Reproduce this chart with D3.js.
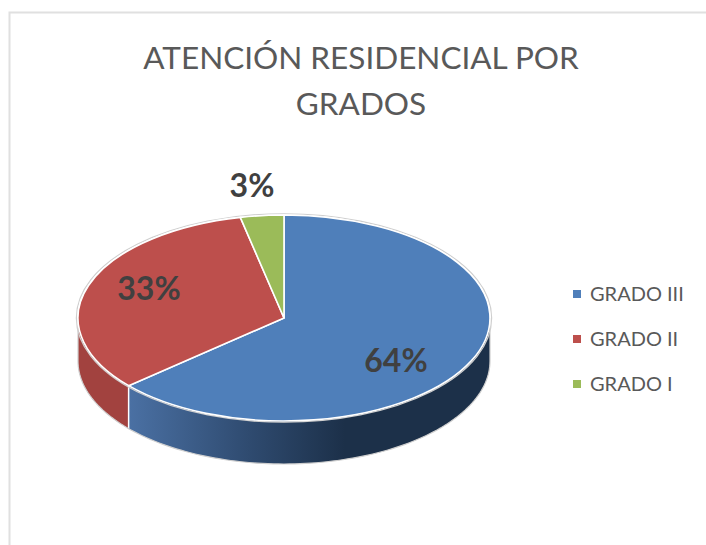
<!DOCTYPE html>
<html lang="es">
<head>
    <meta charset="UTF-8">
    <title>Atención residencial por grados</title>
    <script src="https://cdn.jsdelivr.net/npm/d3@7"></script>
    <style>
        html, body { margin: 0; padding: 0; background: #fff; }
        svg { display: block; font-family: Lato, "Open Sans", sans-serif; }
        .slice-edge { vector-effect: non-scaling-stroke; }
    </style>
</head>
<body>
    <svg id="chart" width="706" height="545"></svg>

    <script>
        // Data
        const categories = ["GRADO III", "GRADO II", "GRADO I"];
        const values = [63.6, 33.0, 3.4];
        const colors = ["#4f7fba", "#bd4f4c", "#9bbb59"];
        const titleLines = ["ATENCIÓN RESIDENCIAL POR", "GRADOS"];

        // Pie layout (ellipse seen in perspective)
        const cx = 284, cy = 318, rx = 206, ry = 103, depth = 43;
        const labelPos = [[396, 361], [149, 289], [252, 186]];

        const svg = d3.select("#chart");

        // Frame of the chart area
        svg.append("path")
            .attr("d", "M9.5,545V12.5H706")
            .attr("fill", "none")
            .attr("stroke", "#e0e0e0")
            .attr("stroke-width", 2);

        // Title
        svg.append("g").selectAll("text")
            .data(titleLines)
            .enter()
            .append("text")
            .attr("x", 361)
            .attr("y", (d, i) => 69 + i * 46)
            .attr("text-anchor", "middle")
            .attr("font-size", 31.5)
            .attr("fill", "#595959")
            .text(d => d);

        const defs = svg.append("defs");
        const blueSide = defs.append("linearGradient")
            .attr("id", "blueSide")
            .attr("gradientUnits", "userSpaceOnUse")
            .attr("x1", 130).attr("x2", 345).attr("y1", 0).attr("y2", 0);
        blueSide.append("stop").attr("offset", 0).attr("stop-color", "#4a70a3");
        blueSide.append("stop").attr("offset", 0.55).attr("stop-color", "#2f4b70");
        blueSide.append("stop").attr("offset", 1).attr("stop-color", "#1c3049");

        const pie = d3.pie().sort(null).value(d => d);
        const arcs = pie(values);

        // Scales from the unit circle to the tilted ellipse
        const xScale = d3.scaleLinear().domain([-1, 1]).range([cx - rx, cx + rx]);
        const yScale = d3.scaleLinear().domain([-1, 1]).range([cy - ry, cy + ry]);

        // Side wall, only the front half of the ellipse shows
        const sideArea = d3.area()
            .x(a => xScale(Math.sin(a)))
            .y0(a => yScale(-Math.cos(a)))
            .y1(a => yScale(-Math.cos(a)) + depth);

        function frontAngles(a) {
            const start = Math.max(a.startAngle, Math.PI / 2);
            const end = Math.min(a.endAngle, Math.PI * 1.5);
            if (end <= start) return [];
            return d3.range(0, 61).map(i => start + (end - start) * i / 60);
        }

        const sideFill = ["url(#blueSide)", "#a2423f", "#7c9647"];
        svg.append("g").selectAll("path")
            .data(arcs)
            .enter()
            .append("path")
            .attr("d", d => sideArea(frontAngles(d)) || "")
            .attr("fill", (d, i) => sideFill[i]);

        // White seam where blue and red walls meet
        const seam = arcs[0].endAngle;
        svg.append("line")
            .attr("x1", xScale(Math.sin(seam)))
            .attr("x2", xScale(Math.sin(seam)))
            .attr("y1", yScale(-Math.cos(seam)))
            .attr("y2", yScale(-Math.cos(seam)) + depth)
            .attr("stroke", "#fff")
            .attr("stroke-width", 1.5);

        // Outer grey outline of the wall
        const wallAngles = d3.range(0, 121).map(i => Math.PI / 2 + Math.PI * i / 120);
        const outlineLine = d3.line()
            .x(a => xScale(Math.sin(a)))
            .y(a => yScale(-Math.cos(a)) + depth);
        svg.append("path")
            .attr("d", `M${xScale(1)},${cy}L${xScale(1)},${cy + depth}` +
                outlineLine(wallAngles).replace(/^M/, "L") +
                `L${xScale(-1)},${cy}`)
            .attr("fill", "none")
            .attr("stroke", "#cfcfcf")
            .attr("stroke-width", 1.2);

        // Top face: unit arcs squashed into the ellipse
        const arc = d3.arc().innerRadius(0).outerRadius(1);
        const topFace = svg.append("g")
            .attr("transform", `translate(${cx},${cy}) scale(${rx},${ry})`);

        topFace.append("ellipse")
            .attr("class", "slice-edge")
            .attr("rx", 1.008).attr("ry", 1.012)
            .attr("fill", "none")
            .attr("stroke", "#cfcfcf")
            .attr("stroke-width", 1.2);

        topFace.selectAll("path")
            .data(arcs)
            .enter()
            .append("path")
            .attr("class", "slice-edge")
            .attr("d", arc)
            .attr("fill", (d, i) => colors[i])
            .attr("stroke", "#fff")
            .attr("stroke-width", 1.6)
            .attr("stroke-linejoin", "round");

        // Percent labels
        const total = d3.sum(values);
        svg.append("g").selectAll("text")
            .data(values)
            .enter()
            .append("text")
            .attr("x", (d, i) => labelPos[i][0])
            .attr("y", (d, i) => labelPos[i][1] + 11)
            .attr("text-anchor", "middle")
            .attr("font-size", 32)
            .attr("font-weight", "bold")
            .attr("fill", "#404040")
            .text(d => Math.round(d / total * 100) + "%");

        // Legend
        const legend = svg.append("g").selectAll("g")
            .data(categories)
            .enter()
            .append("g")
            .attr("transform", (d, i) => `translate(573,${290 + i * 45})`);

        legend.append("rect")
            .attr("width", 8)
            .attr("height", 8)
            .attr("fill", (d, i) => colors[i]);

        legend.append("text")
            .attr("x", 17)
            .attr("y", 11)
            .attr("font-size", 20)
            .attr("fill", "#595959")
            .text(d => d);
    </script>
</body>
</html>
